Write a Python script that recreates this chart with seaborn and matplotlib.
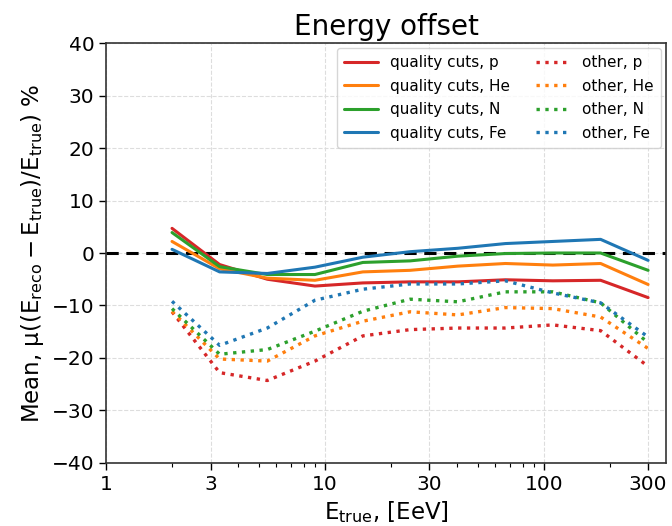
import matplotlib
matplotlib.use("Agg")
import matplotlib.pyplot as plt
import seaborn as sns
import pandas as pd
from matplotlib.ticker import FixedLocator, FixedFormatter, LogLocator, NullFormatter

# Data
energy = [2.0, 3.3, 5.45, 9.0, 14.9, 24.5, 40.5, 66.8, 110, 182, 300]
particles = ["p", "He", "N", "Fe"]
colors = ["tab:red", "tab:orange", "tab:green", "tab:blue"]

qc_p = [4.7, -2.2, -5.0, -6.3, -5.7, -5.5, -5.5, -5.1, -5.3, -5.2, -8.5]
qc_he = [2.2, -3.0, -4.8, -5.2, -3.6, -3.3, -2.5, -2.0, -2.3, -2.0, -6.0]
qc_n = [3.9, -2.6, -4.1, -4.1, -1.8, -1.5, -0.6, -0.1, 0.0, 0.0, -3.3]
qc_fe = [0.7, -3.6, -3.9, -2.7, -0.8, 0.25, 0.9, 1.8, 2.2, 2.6, -1.4]

ot_p = [-11.2, -22.8, -24.3, -20.6, -15.8, -14.6, -14.3, -14.3, -13.7, -14.8, -21.6]
ot_he = [-11.1, -20.2, -20.6, -15.8, -13.0, -11.2, -11.8, -10.4, -10.6, -12.2, -18.2]
ot_n = [-10.6, -19.3, -18.4, -14.9, -11.1, -8.8, -9.3, -7.4, -7.4, -9.5, -17.1]
ot_fe = [-9.2, -17.6, -14.3, -9.0, -6.9, -5.9, -5.9, -5.3, -7.6, -9.5, -16.0]

xticks = [1, 3, 10, 30, 100, 300]
xtick_labels = ["1", "3", "10", "30", "100", "300"]
yticks = [-40, -30, -20, -10, 0, 10, 20, 30, 40]

sns.set_theme(style="ticks")
plt.rcParams["font.family"] = ["DejaVu Sans"]
plt.rcParams["mathtext.default"] = "regular"
plt.rcParams["text.color"] = "black"
plt.rcParams["axes.labelcolor"] = "black"
plt.rcParams["xtick.color"] = "black"
plt.rcParams["ytick.color"] = "black"

fig = plt.figure(figsize=(6.72, 5.26), dpi=100)
ax = fig.add_axes([0.158, 0.12, 0.833, 0.798])

qc = [qc_p, qc_he, qc_n, qc_fe]
ot = [ot_p, ot_he, ot_n, ot_fe]

for vals, part, col in zip(qc, particles, colors):
    df = pd.DataFrame({"E": energy, "v": vals})
    sns.lineplot(data=df, x="E", y="v", ax=ax, color=col, lw=2.2,
                 label=f"quality cuts, {part}")
for vals, part, col in zip(ot, particles, colors):
    df = pd.DataFrame({"E": energy, "v": vals})
    sns.lineplot(data=df, x="E", y="v", ax=ax, color=col, lw=2.4,
                 linestyle=":", label=f"other, {part}")

ax.axhline(0, color="black", lw=2.2, ls=(0, (4, 2.5)), zorder=1.5)

ax.set_xscale("log")
ax.set_xlim(1, 362)
ax.set_ylim(-40, 40)
ax.xaxis.set_major_locator(FixedLocator(xticks))
ax.xaxis.set_major_formatter(FixedFormatter(xtick_labels))
ax.xaxis.set_minor_locator(LogLocator(base=10, subs=[2, 4, 5, 6, 7, 8, 9]))
ax.xaxis.set_minor_formatter(NullFormatter())
ax.set_yticks(yticks)

ax.grid(True, which="major", ls="--", lw=0.8, color="#dddddd")
ax.tick_params(axis="both", which="major", labelsize=14.5, length=5, width=1, direction="out")
ax.tick_params(axis="x", which="minor", length=3, width=0.8)
for s in ax.spines.values():
    s.set_color("#333333")
    s.set_linewidth(1.2)

ax.set_title("Energy offset", fontsize=20)
ax.set_xlabel(r"$E_{true}$, [EeV]", fontsize=16.5)
ax.set_ylabel(r"Mean, $\mu((E_{reco} - E_{true})/E_{true})$ %", fontsize=16.5)

ax.legend(ncol=2, loc="upper right", fontsize=11, frameon=True,
          handlelength=2.2, handletextpad=0.8, columnspacing=1.7,
          borderpad=0.5, labelspacing=0.55, borderaxespad=0.3)

fig.savefig("out.png", dpi=100)
